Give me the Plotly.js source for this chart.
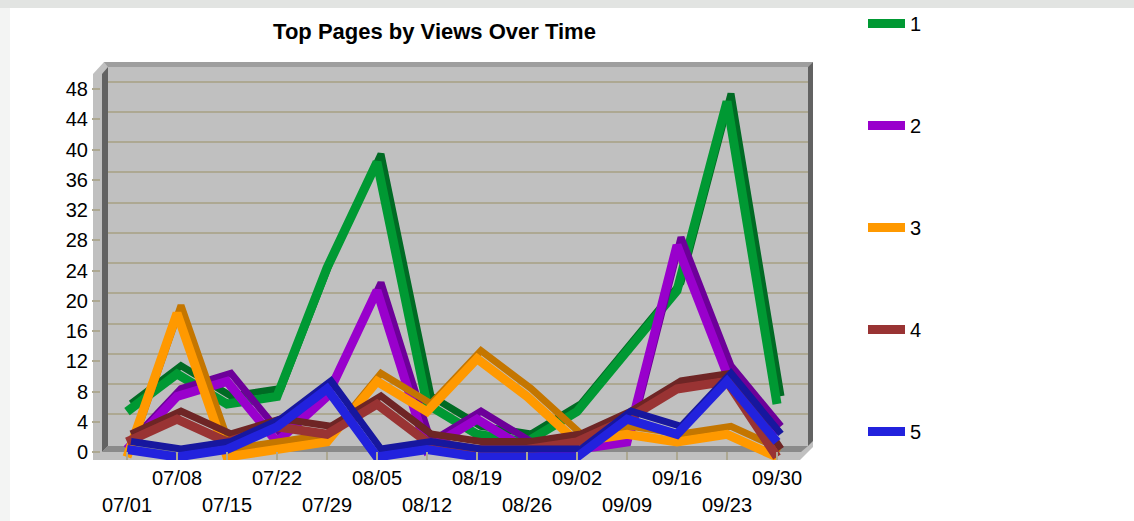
<!DOCTYPE html>
<html><head><meta charset="utf-8">
<script src="https://cdn.plot.ly/plotly-3.0.1.min.js"></script>
<style>html,body{margin:0;padding:0;background:#fff;} #chart{width:1134px;height:521px;}</style>
</head><body><div id="chart"></div>
<script>
// ---- data ----
const dates = ['07/01','07/08','07/15','07/22','07/29','08/05','08/12','08/19','08/26','09/02','09/09','09/16','09/23','09/30'];
const page1 = [6, 11, 7, 8, 25, 39, 7, 3, 2, 6, 14, 22, 47, 7];
const page2 = [1, 8, 10, 2, 8, 22, 1, 5, 1, 1, 2, 28, 11, 3];
const page3 = [0, 19, 0, 1, 2, 10, 6, 13, 8, 2, 3, 2, 3, 0];
const page4 = [2, 5, 2, 4, 3, 7, 2, 1, 1, 2, 5, 9, 10, 0];
const page5 = [1, 0, 1, 4, 9, 0, 1, 0, 0, 0, 5, 3, 10, 2];
const seriesNames = ['1', '2', '3', '4', '5'];
const yTickVals = [0, 4, 8, 12, 16, 20, 24, 28, 32, 36, 40, 44, 48];
const chartTitle = 'Top Pages by Views Over Time';

// ---- style ----
const seriesData = [page1, page2, page3, page4, page5];
const frontColors = ['#009933', '#9900CC', '#FF9900', '#993333', '#2222DD'];
const topColors   = ['#006B24', '#6D0099', '#C47600', '#6E2525', '#17179E'];
const FONT = 'Liberation Sans, Arial, Helvetica, sans-serif';
const L = 93, R = 813, T = 62, B = 460;        // paper box in px
const UNIT = 7.5625, CAT = 50, X0 = 127;       // px per view, px per category, first category px
const PX = p => (p - L) / (R - L);
const PY = p => (B - p) / (B - T);
const xRange = shift => [(108 - (X0 + shift)) / CAT, (808 - (X0 + shift)) / CAT];
const yRange = zeroPx => [-(B - zeroPx) / UNIT, (zeroPx - T) / UNIT];
const tickColor = '#ADA892';

const oddDates = dates.filter((d, i) => i % 2 === 1);
const evenDates = dates.filter((d, i) => i % 2 === 0);

const layout = {
  width: 1134, height: 521,
  margin: {l: L, r: 1134 - R, t: T, b: 521 - B, pad: 0},
  paper_bgcolor: '#ffffff',
  plot_bgcolor: 'rgba(0,0,0,0)',
  font: {family: FONT, color: '#000', size: 20},
  showlegend: true,
  title: {text: chartTitle, font: {family: FONT, size: 22, color: '#000', weight: 'bold'},
          xref: 'container', x: 434.5 / 1134, xanchor: 'center',
          yref: 'container', y: 1 - 31 / 521, yanchor: 'middle'},
  legend: {xref: 'container', yref: 'container', x: 863 / 1134, y: 1 - 4 / 521,
           xanchor: 'left', yanchor: 'top', font: {family: FONT, size: 20, color: '#000'},
           tracegroupgap: 73, itemwidth: 37, maxheight: 515,
           bgcolor: 'rgba(0,0,0,0)', borderwidth: 0},
  xaxis: {domain: [PX(108), PX(808)], type: 'category', range: xRange(0), anchor: 'y',
          tickmode: 'array', tickvals: oddDates, ticktext: oddDates,
          ticks: 'inside', ticklen: 8, tickwidth: 2, tickcolor: tickColor, ticklabelstandoff: 4,
          showgrid: false, zeroline: false, showline: false, fixedrange: true,
          tickfont: {family: FONT, size: 20, color: '#000'}},
  xaxis13: {overlaying: 'x', anchor: 'y', side: 'bottom', type: 'category', range: xRange(0),
          tickmode: 'array', tickvals: evenDates, ticktext: evenDates,
          ticks: 'inside', ticklen: 8, tickwidth: 2, tickcolor: tickColor, ticklabelstandoff: 31,
          showgrid: false, zeroline: false, showline: false, fixedrange: true,
          tickfont: {family: FONT, size: 20, color: '#000'}},
  yaxis: {domain: [0, 1], range: yRange(452), anchor: 'free', position: PX(100),
          tickmode: 'array', tickvals: yTickVals, ticks: 'outside', ticklen: 8, tickwidth: 2,
          tickcolor: tickColor, showgrid: false, zeroline: false, showline: false, fixedrange: true,
          tickfont: {family: FONT, size: 20, color: '#000'}},
  yaxis12: {overlaying: 'y', range: yRange(444.5), tickmode: 'array',
          tickvals: yTickVals.filter(v => v > 0), showgrid: true, gridcolor: tickColor, gridwidth: 2,
          showticklabels: false, ticks: '', zeroline: false, showline: false, fixedrange: true},
  shapes: []
};

// 3D box frame
function poly(pts, color) {
  const d = pts.map((p, i) => (i ? 'L' : 'M') + PX(p[0]).toFixed(5) + ',' + PY(p[1]).toFixed(5)).join(' ') + ' Z';
  return {type: 'path', xref: 'paper', yref: 'paper', path: d, fillcolor: color, line: {width: 0}, layer: 'below'};
}
layout.shapes.push(poly([[0,0],[1134,0],[1134,8],[0,8]], '#E2E4E2'));
layout.shapes.push(poly([[0,8],[10,8],[10,521],[0,521]], '#F3F4F3'));
layout.shapes.push(poly([[93,74],[104,62],[813,62],[813,447],[800,460],[93,460]], '#C0C0C0'));
layout.shapes.push(poly([[104,62],[813,62],[808,67],[108,67]], '#9E9E9E'));
layout.shapes.push(poly([[102,74],[108,67],[108,446],[102,452]], '#626262'));
layout.shapes.push(poly([[808,67],[813,62],[813,441],[808,446]], '#626262'));
layout.shapes.push(poly([[108,446],[808,446],[801,452],[102,452]], '#8A8A8A'));

const traces = [];
// host traces for the label / grid axes (not drawn)
traces.push({x: dates, y: page1, xaxis: 'x', yaxis: 'y', mode: 'lines', opacity: 0,
             line: {width: 0}, showlegend: false, hoverinfo: 'skip'});
traces.push({x: dates, y: page1, xaxis: 'x', yaxis: 'y12', mode: 'lines', opacity: 0,
             line: {width: 0}, showlegend: false, hoverinfo: 'skip'});

seriesData.forEach((vals, s) => {
  const nTop = 2 + 2 * s, nFront = 3 + 2 * s;
  layout['xaxis' + nTop] = {overlaying: 'x', type: 'category', range: xRange(4), visible: false, fixedrange: true};
  layout['yaxis' + nTop] = {overlaying: 'y', range: yRange(449), visible: false, fixedrange: true};
  layout['xaxis' + nFront] = {overlaying: 'x', type: 'category', range: xRange(0), visible: false, fixedrange: true};
  layout['yaxis' + nFront] = {overlaying: 'y', range: yRange(457), visible: false, fixedrange: true};
  traces.push({x: dates, y: vals, xaxis: 'x' + nTop, yaxis: 'y' + nTop, mode: 'lines',
               line: {color: topColors[s], width: 7}, showlegend: false, hoverinfo: 'skip',
               legendgroup: 'g' + s});
  traces.push({x: dates, y: vals, xaxis: 'x' + nFront, yaxis: 'y' + nFront, mode: 'lines',
               name: seriesNames[s], line: {color: frontColors[s], width: 9},
               showlegend: true, legendgroup: 'g' + s});
});
traces.push({x: dates, y: page1, xaxis: 'x13', yaxis: 'y', mode: 'lines', opacity: 0,
             line: {width: 0}, showlegend: false, hoverinfo: 'skip'});

Plotly.newPlot('chart', traces, layout, {displayModeBar: false, staticPlot: true});
</script></body></html>
